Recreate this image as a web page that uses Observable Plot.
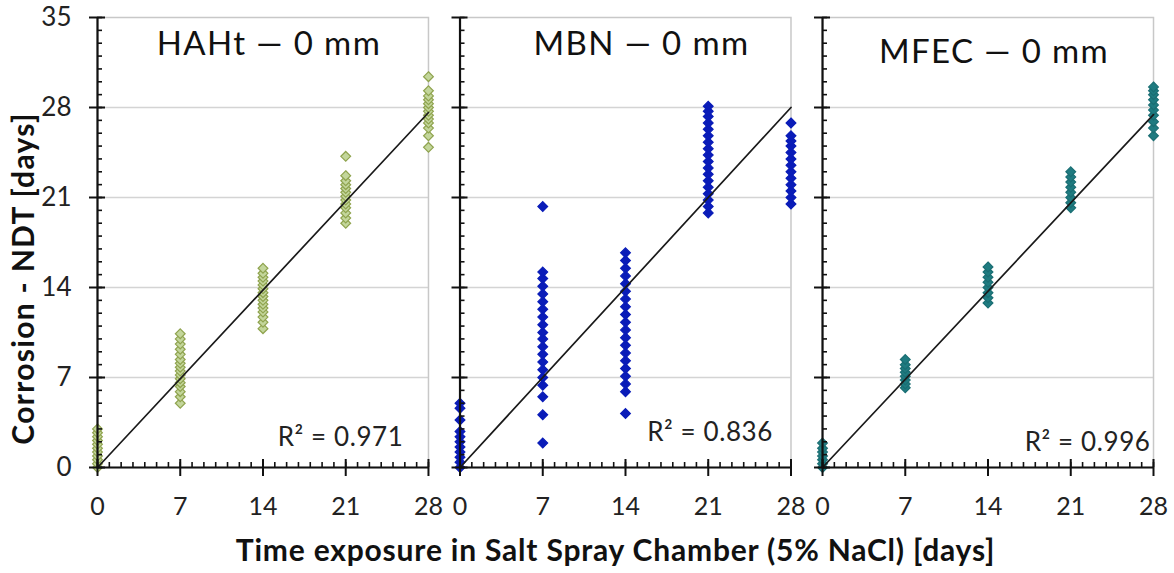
<!DOCTYPE html>
<html>
<head>
<meta charset="utf-8">
<script src="https://cdn.jsdelivr.net/npm/d3@7"></script>
<script src="https://cdn.jsdelivr.net/npm/@observablehq/plot@0.6"></script>
<style>
  body { margin: 0; background: #fff; }
  #chart { width: 1174px; height: 573px; position: relative; }
</style>
</head>
<body>
<div id="chart"></div>
<script>
// ---- data ----
const panels = ["HAHt — 0 mm", "MBN — 0 mm", "MFEC — 0 mm"];
const days = [0, 7, 14, 21, 28];

const hahtValues = [
  [0, 0.3, 0.6, 0.9, 1.2, 1.5, 1.8, 2.1, 2.4, 2.7, 3.0],
  [5.0, 5.5, 5.9, 6.3, 6.6, 6.9, 7.2, 7.5, 7.8, 8.1, 8.4, 8.8, 9.2, 9.6, 10.0, 10.4],
  [10.8, 11.3, 11.7, 12.1, 12.4, 12.7, 13.0, 13.3, 13.6, 13.9, 14.2, 14.5, 14.8, 15.1, 15.5],
  [19.0, 19.4, 19.8, 20.2, 20.5, 20.8, 21.1, 21.4, 21.7, 22.0, 22.3, 22.7, 24.2],
  [24.9, 25.8, 26.4, 26.8, 27.1, 27.4, 27.7, 28.0, 28.3, 28.6, 28.9, 29.3, 30.4]
];
const mbnValues = [
  [0, 0.4, 0.8, 1.2, 1.6, 2.0, 2.4, 2.8, 3.7, 4.6, 5.0],
  [1.9, 4.1, 5.5, 6.4, 7.0, 7.6, 8.2, 8.8, 9.4, 10.0, 10.5, 11.1, 11.7, 12.3, 12.9, 13.5, 14.1, 14.7, 15.2, 20.3],
  [4.2, 5.9, 6.5, 7.1, 7.7, 8.3, 8.9, 9.5, 10.1, 10.7, 11.3, 11.9, 12.5, 13.1, 13.7, 14.3, 14.9, 15.5, 16.1, 16.7],
  [19.8, 20.3, 20.8, 21.3, 21.8, 22.3, 22.8, 23.3, 23.8, 24.3, 24.8, 25.3, 25.8, 26.3, 26.8, 27.3, 27.7, 28.1],
  [20.5, 21.0, 21.5, 22.0, 22.5, 23.0, 23.5, 24.0, 24.5, 25.0, 25.4, 25.8, 26.8]
];
const mfecValues = [
  [0, 0.3, 0.6, 0.9, 1.2, 1.5, 1.9],
  [6.2, 6.5, 6.8, 7.1, 7.4, 7.7, 8.0, 8.4],
  [12.8, 13.2, 13.6, 14.0, 14.4, 14.8, 15.2, 15.6],
  [20.2, 20.6, 21.0, 21.4, 21.8, 22.2, 22.6, 23.0],
  [25.8, 26.4, 26.9, 27.4, 27.8, 28.2, 28.6, 29.0, 29.3, 29.6]
];
const trendSlopes = [0.986, 1.0, 0.98];
const r2Labels = ["R² = 0.971", "R² = 0.836", "R² = 0.996"];

const yMajorTicks = [0, 7, 14, 21, 28, 35];
const yGridTicks = [7, 14, 21, 28];
const xMajorTicks = [0, 7, 14, 21, 28];
const yMinorTicks = d3.range(0, 36);
const xMinorTicks = d3.range(0, 29);

const yTitle = "Corrosion - NDT [days]";
const xTitle = "Time exposure in Salt Spray Chamber (5% NaCl) [days]";

// ---- styles / layout ----
const dotFills = ["#c3d69b", "#0a1cb8", "#1f7b80"];
const dotStrokes = ["#8fa34e", "#0a1cb8", "#1a6e73"];
const titleNudge = [[6, 0], [16, 0], [6, 8]];
const r2Nudge = [[-25, -30], [-18, -35], [-3, -25]];
const axisColor = "#111";
const font = "Lato, 'Open Sans', sans-serif";

// ---- tables ----
const allValues = [hahtValues, mbnValues, mfecValues];
const points = panels.flatMap((p, i) =>
  allValues[i].flatMap((ys, j) => ys.map(v => ({panel: p, day: days[j], value: v})))
);
const trend = panels.flatMap((p, i) => [
  {panel: p, day: days[0], value: days[0] * trendSlopes[i]},
  {panel: p, day: days[days.length - 1], value: days[days.length - 1] * trendSlopes[i]}
]);

const chart = Plot.plot({
  width: 1174,
  height: 573,
  marginLeft: 97,
  marginRight: 21,
  marginTop: 17,
  marginBottom: 106,
  style: {fontFamily: font, background: "#fff", color: "#222"},
  fx: {domain: panels, axis: null, paddingInner: 0.087, paddingOuter: 0, round: false},
  x: {domain: [0, 28], axis: null},
  y: {domain: [0, 35], axis: null},
  marks: [
    Plot.ruleY(yGridTicks, {stroke: "#d4d4d4", strokeWidth: 1.5}),
    Plot.frame({stroke: "#c8c8c8", strokeWidth: 1.5}),
    // data points
    ...panels.map((p, i) => Plot.dot(points.filter(d => d.panel === p), {
      x: "day", y: "value", fx: "panel", symbol: "diamond2", r: 4.4,
      fill: dotFills[i], stroke: dotStrokes[i], strokeWidth: 1.2
    })),
    // trend lines
    Plot.line(trend, {x: "day", y: "value", fx: "panel", z: "panel", stroke: "#1a1a1a", strokeWidth: 1.7}),
    // axis lines
    Plot.ruleX([0], {stroke: axisColor, strokeWidth: 2.2}),
    Plot.ruleY([0], {stroke: axisColor, strokeWidth: 2.2}),
    // y ticks
    Plot.axisY({ticks: yMajorTicks, tickSize: 8, tickFormat: () => "", facetAnchor: null, stroke: axisColor, strokeWidth: 2, label: null}),
    Plot.axisY({ticks: yMajorTicks, tickSize: -8, tickFormat: () => "", facetAnchor: null, stroke: axisColor, strokeWidth: 2, label: null}),
    Plot.axisY({ticks: yMinorTicks, tickSize: -5, tickFormat: () => "", facetAnchor: null, stroke: axisColor, strokeWidth: 1.6, label: null}),
    Plot.axisY({ticks: yMajorTicks, tickSize: 0, tickPadding: 26, fontSize: 26, fill: "#222", label: null}),
    // x ticks
    Plot.axisX({ticks: xMajorTicks, tickSize: 9, tickFormat: () => "", facetAnchor: null, stroke: axisColor, strokeWidth: 2, label: null}),
    Plot.axisX({ticks: xMajorTicks, tickSize: -8, tickFormat: () => "", facetAnchor: null, stroke: axisColor, strokeWidth: 2, label: null}),
    Plot.axisX({ticks: xMinorTicks, tickSize: -5, tickFormat: () => "", facetAnchor: null, stroke: axisColor, strokeWidth: 1.6, label: null}),
    Plot.axisX({ticks: xMajorTicks, tickSize: 0, tickPadding: 30, fontSize: 25, fill: "#222", label: null, facetAnchor: null}),
    // panel titles
    ...panels.map((p, i) => Plot.text([p], {
      fx: () => p, text: d => d, frameAnchor: "top", dx: titleNudge[i][0], dy: 27 + titleNudge[i][1],
      fontSize: 33, fill: "#111", lineAnchor: "middle", textAnchor: "middle"
    })),
    // R² labels
    ...panels.map((p, i) => Plot.text([r2Labels[i]], {
      fx: () => p, text: d => d, frameAnchor: "bottom-right", dx: r2Nudge[i][0], dy: r2Nudge[i][1],
      fontSize: 26, fill: "#222", textAnchor: "end", lineAnchor: "middle"
    })),
    // axis titles
    Plot.text([yTitle], {fx: () => panels[0], text: d => d, frameAnchor: "left", rotate: -90, dx: -73, dy: 36, fontSize: 30, fontWeight: "bold", fill: "#111", textAnchor: "middle", lineAnchor: "middle"}),
    Plot.text([xTitle], {fx: () => panels[1], text: d => d, frameAnchor: "bottom", dx: -10, dy: 84, fontSize: 30, fontWeight: "bold", fill: "#111", lineAnchor: "middle", textAnchor: "middle"})
  ]
});
document.getElementById("chart").appendChild(chart);

// letter spacing to widen the labels like the reference lettering
d3.select(chart).selectAll("text").each(function() {
  const t = this.textContent;
  if (panels.includes(t)) d3.select(this).style("letter-spacing", "1.4px");
  else if (t === xTitle) d3.select(this).style("letter-spacing", "0.8px");
  else if (t === yTitle) d3.select(this).style("letter-spacing", "1.3px");
  else if (r2Labels.includes(t)) d3.select(this).style("letter-spacing", "0.6px");
});
</script>
</body>
</html>
